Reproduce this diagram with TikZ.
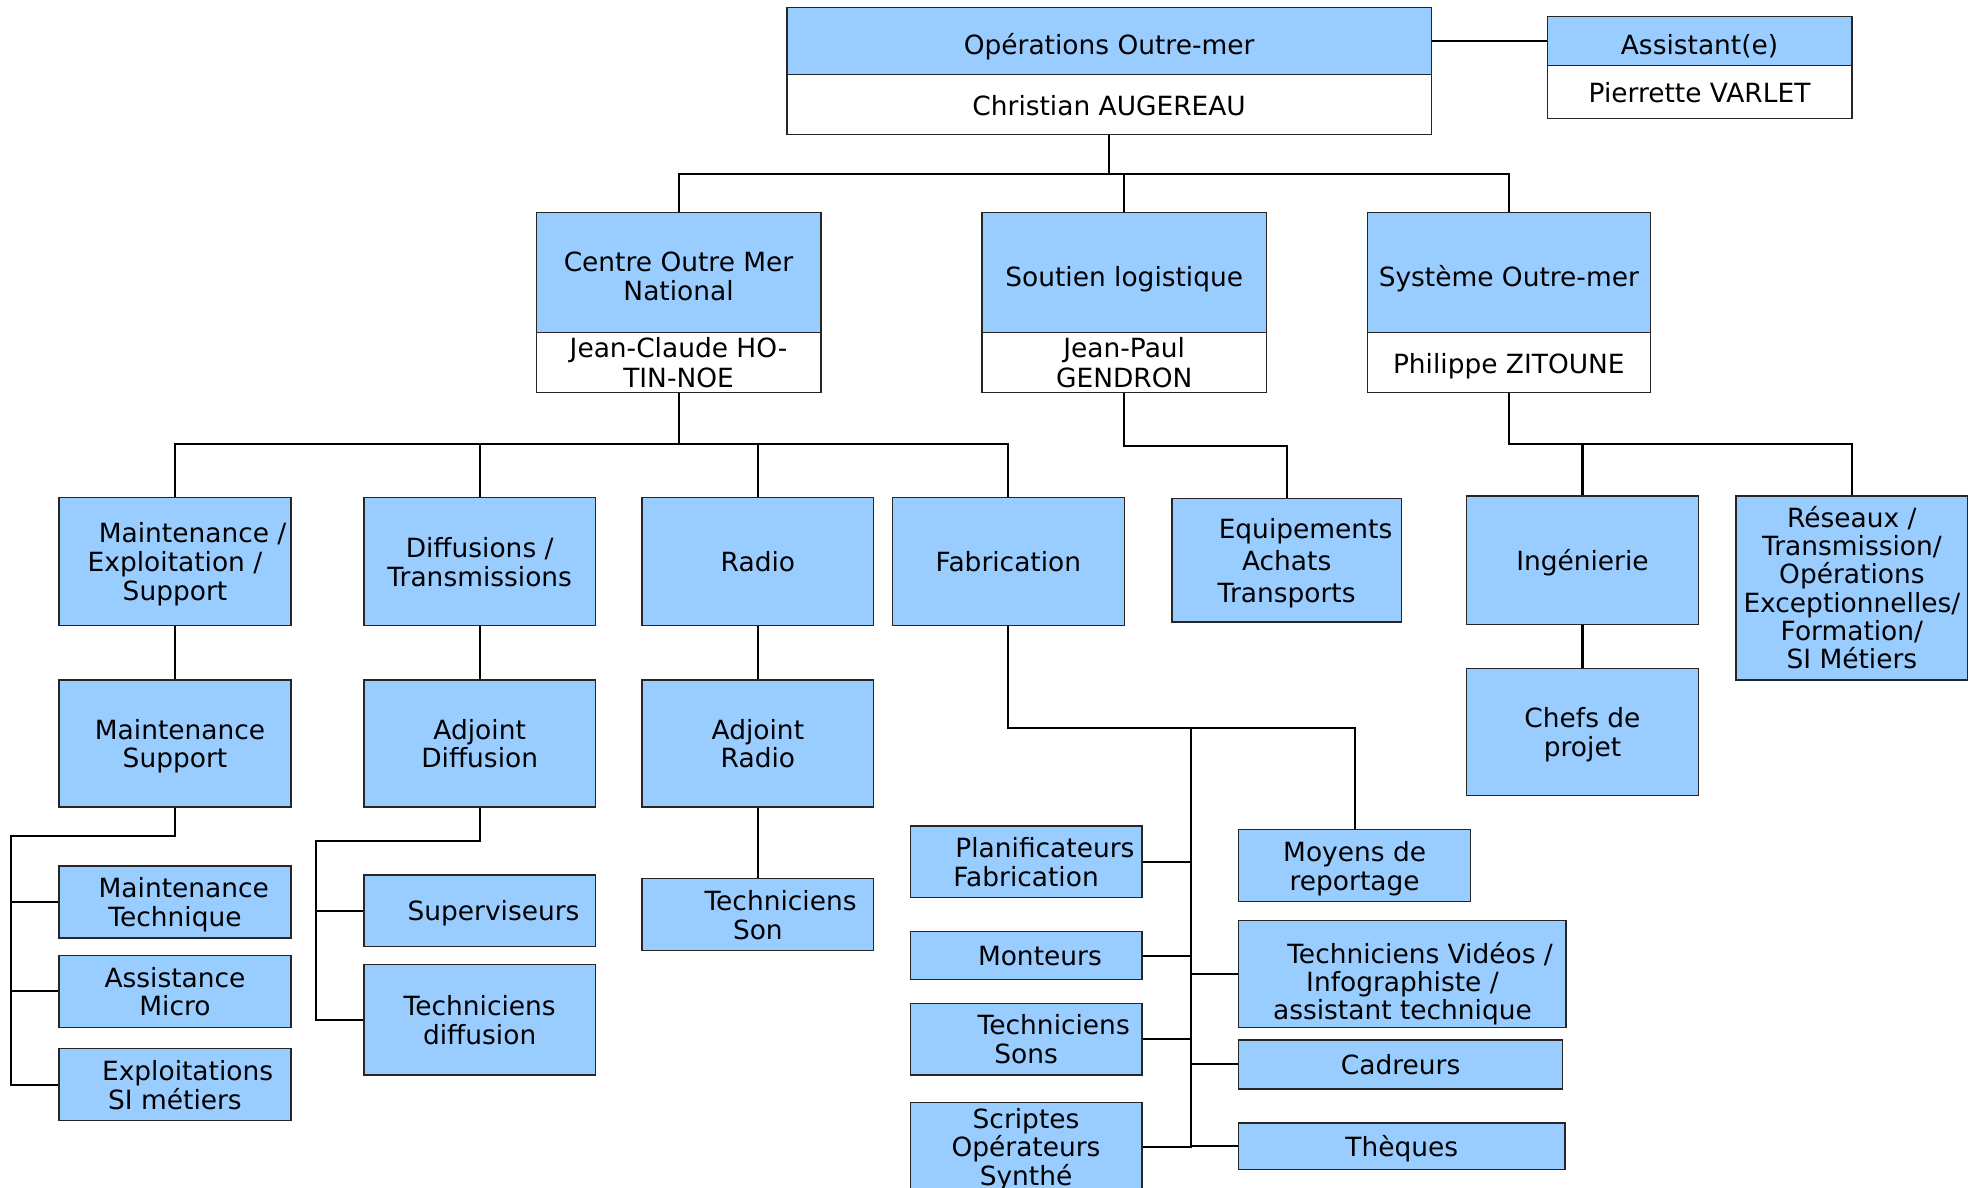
\documentclass[tikz,border=0pt]{standalone}
\usepackage{fontspec}
\setmainfont{DejaVu Sans}
\definecolor{boxblue}{RGB}{153,204,255}
\newcommand\lead[1]{\hspace*{#1pt}}
\newcommand\fsh{21pt}
\newcommand\fsd{5pt}
\newcommand\fs{\rule{0pt}{\fsh}}
\begin{document}
\begin{tikzpicture}[x=1pt,y=-1pt,
  bx/.style={draw=black!85, line width=1.1pt, fill=boxblue, inner sep=0pt, align=center,
    font=\fontsize{21}{23}\selectfont,
    /utils/exec={\def\fsh{21pt}\def\fsd{5pt}},
    execute at end node={\rule[-\fsd]{0pt}{\fsd}}},
  hd/.style={bx, /utils/exec={\def\fsh{26.5pt}}},
  wb/.style={bx, fill=white, font=\fontsize{21}{24.5}\selectfont, /utils/exec={\def\fsh{22pt}}},
  wbb/.style={wb, font=\fontsize{21}{24}\selectfont, /utils/exec={\def\fsh{20pt}\def\fsd{4pt}}},
  tight/.style={font=\fontsize{21}{22.4}\selectfont},
  loose/.style={font=\fontsize{21}{25.5}\selectfont},
  ln/.style={line width=1.6pt, black}]
\useasboundingbox (0,0) rectangle (1568,943);
\clip (0,0) rectangle (1568,943);
% level 1
\node[hd, minimum width=512, minimum height=53] (ops) at (881,32.5) {\fs Opérations Outre-mer};
\node[wb, minimum width=512, minimum height=48] (opsn) at (881,83) {\fs Christian AUGEREAU};
\node[hd, minimum width=242, minimum height=39] (ast) at (1350,32.5) {\fs Assistant(e)};
\node[wb, minimum width=242, minimum height=42] (astn) at (1350,73) {\fs Pierrette VARLET};
% level 2
\node[hd, minimum width=226, minimum height=95] (cen) at (539,216.5) {\fs Centre Outre Mer\\National};
\node[wbb, minimum width=226, minimum height=48] (cenn) at (539,288) {\fs Jean-Claude HO-\\TIN-NOE};
\node[hd, minimum width=226, minimum height=95] (sou) at (893,216.5) {\fs Soutien logistique};
\node[wbb, minimum width=226, minimum height=48] (soun) at (893,288) {\fs Jean-Paul\\GENDRON};
\node[hd, minimum width=225, minimum height=95] (sys) at (1198.5,216.5) {\fs Système Outre-mer};
\node[wb, minimum width=225, minimum height=48] (sysn) at (1198.5,288) {\fs Philippe ZITOUNE};
% level 3
\node[bx, minimum width=184, minimum height=102] (mes) at (139,446) {\fs\lead{28}Maintenance /\\Exploitation /\\Support};
\node[bx, minimum width=184, minimum height=102] (dif) at (381,446) {\fs Diffusions /\\Transmissions};
\node[bx, minimum width=184, minimum height=102] (rad) at (602,446) {\fs Radio};
\node[bx, minimum width=184, minimum height=102] (fab) at (801,446) {\fs Fabrication};
\node[bx, loose, minimum width=182, minimum height=98] (equ) at (1022,445) {\fs\lead{30}Equipements\\Achats\\Transports};
\node[bx, minimum width=184, minimum height=102] (ing) at (1257,445) {\fs Ingénierie};
\node[bx, tight, minimum width=184, minimum height=146] (res) at (1471,467) {\fs Réseaux /\\Transmission/\\Opérations\\Exceptionnelles/\\Formation/\\SI Métiers};
\node[bx, minimum width=184, minimum height=101] (chef) at (1257,581.5) {\fs Chefs de\\projet};
% level 4
\node[bx, minimum width=184, minimum height=101] (ms) at (139,590.5) {\fs\lead{8}Maintenance\\Support};
\node[bx, minimum width=184, minimum height=101] (ad) at (381,590.5) {\fs Adjoint\\Diffusion};
\node[bx, minimum width=184, minimum height=101] (ar) at (602,590.5) {\fs Adjoint\\Radio};
% MS children
\node[bx, minimum width=184, minimum height=57] (mt) at (139,716.5) {\fs\lead{14}Maintenance\\Technique};
\node[bx, minimum width=184, minimum height=57] (am) at (139,787.5) {\fs Assistance\\Micro};
\node[bx, minimum width=184, minimum height=57] (et) at (139,861.5) {\fs\lead{20}Exploitations\\SI métiers};
% AD children
\node[bx, minimum width=184, minimum height=57] (sup) at (381,723.5) {\fs\lead{22}Superviseurs};
\node[bx, minimum width=184, minimum height=88] (td) at (381,810) {\fs Techniciens\\diffusion};
% AR child
\node[bx, minimum width=184, minimum height=57] (ts) at (602,726.5) {\fs\lead{36}Techniciens\\Son};
% Fabrication children
\node[bx, minimum width=184, minimum height=57] (pla) at (815,684.5) {\fs\lead{30}Planificateurs\\Fabrication};
\node[bx, minimum width=184, minimum height=38] (mon) at (815,759) {\fs\lead{22}Monteurs};
\node[bx, minimum width=184, minimum height=57] (tso) at (815,825.5) {\fs\lead{44}Techniciens\\Sons};
\node[bx, tight, minimum width=184, minimum height=68] (scr) at (815,911) {\fs Scriptes\\Opérateurs\\Synthé};
\node[bx, minimum width=184, minimum height=57] (moy) at (1076,687.5) {\fs Moyens de\\reportage};
\node[bx, tight, /utils/exec={\def\fsh{33pt}}, minimum width=260, minimum height=85] (tvi) at (1114,773.5) {\fs\lead{28}Techniciens Vidéos /\\Infographiste /\lead{17}\\assistant technique};
\node[bx, minimum width=257, minimum height=39] (cad) at (1112.5,845.5) {\fs Cadreurs};
\node[bx, minimum width=259, minimum height=37] (the) at (1113.5,910.5) {\fs Thèques};
% bus coordinates
\coordinate (bus1) at (881,138);
\coordinate (bus2) at (539,353);
\coordinate (bus3) at (893,354);
\coordinate (bus4) at (1198.5,353);
\coordinate (mb) at (9,664);
\coordinate (ab) at (251,668);
\coordinate (fb) at (946,578);
% connectors
\draw[ln] (ops.east) -- (ops.east -| ast.west);
\draw[ln] (opsn.south) -- (bus1);
\draw[ln] (cen.north) |- (bus1);
\draw[ln] (sys.north) |- (bus1);
\draw[ln] (sou.north) -- (sou.north |- bus1);
\draw[ln] (cenn.south) -- (bus2);
\draw[ln] (mes.north) |- (bus2);
\draw[ln] (fab.north) |- (bus2);
\draw[ln] (dif.north) -- (dif.north |- bus2);
\draw[ln] (rad.north) -- (rad.north |- bus2);
\draw[ln] (soun.south) -- (bus3) -| (equ.north);
\draw[ln] (sysn.south) -- (bus4) -| (res.north);
\draw[ln] (ing.north) -- (ing.north |- bus4);
\draw[ln] (ing.south) -- (chef.north);
\draw[ln] (mes.south) -- (ms.north);
\draw[ln] (dif.south) -- (ad.north);
\draw[ln] (rad.south) -- (ar.north);
\draw[ln] (ar.south) -- (ts.north);
\draw[ln] (ms.south) |- (mb) -- (mb |- et.west) -- (et.west);
\draw[ln] (mt.west) -- (mt.west -| mb);
\draw[ln] (am.west) -- (am.west -| mb);
\draw[ln] (ad.south) |- (ab) -- (ab |- td.west) -- (td.west);
\draw[ln] (sup.west) -- (sup.west -| ab);
\draw[ln] (fab.south) |- (fb) -| (moy.north);
\draw[ln] (fb) -- (fb |- scr.east) -- (scr.east);
\draw[ln] (pla.east) -- (pla.east -| fb);
\draw[ln] (mon.east) -- (mon.east -| fb);
\draw[ln] (tso.east) -- (tso.east -| fb);
\draw[ln] (tvi.west) -- (tvi.west -| fb);
\draw[ln] (cad.west) -- (cad.west -| fb);
\draw[ln] (the.west) -- (the.west -| fb);
\end{tikzpicture}
\end{document}
